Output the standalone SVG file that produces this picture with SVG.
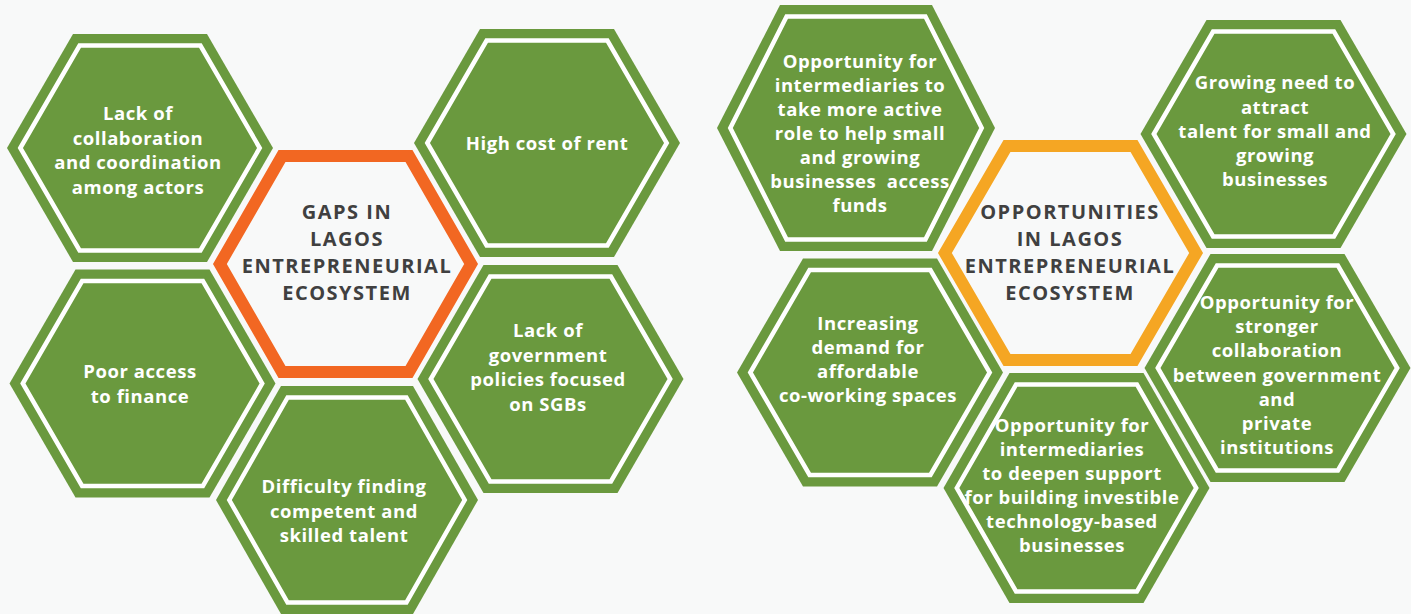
<svg xmlns="http://www.w3.org/2000/svg" width="1411" height="614" viewBox="0 0 1411 614">
<style>
.bg{fill:#f8f9f9}
.hex{fill:#6a993e}
.in{fill:none;stroke:#ffffff;stroke-width:4.5;stroke-linejoin:miter}
.core{fill:#f8f9f9;stroke-width:12;stroke-linejoin:miter}
.t{font-family:"Open Sans","Liberation Sans",sans-serif;font-weight:700;font-size:18.5px;letter-spacing:0.55px;fill:#ffffff;text-anchor:middle}
.c{font-family:"Open Sans","Liberation Sans",sans-serif;font-weight:700;font-size:20px;letter-spacing:1.5px;fill:#404040;text-anchor:middle}
</style>
<rect class="bg" x="0" y="0" width="1411" height="614"/>
<g id="connectors"/>

<g id="gap-collaboration">
<polygon class="hex" points="7,148 73,34 207,34 273,148 207,262 73,262"/>
<polygon class="in" points="20.3,148 79.6,45.5 200.4,45.5 259.7,148 200.4,250.5 79.6,250.5"/>
<text class="t" x="138" y="120">Lack of</text>
<text class="t" x="138" y="144.5">collaboration</text>
<text class="t" x="138" y="169">and coordination</text>
<text class="t" x="138" y="193.5">among actors</text>
</g>

<g id="gaps-center">
<polygon class="core" stroke="#f26722" points="219.9,264 282,156 409,156 471.1,264 409,372 282,372"/>
<text class="c" x="347" y="219">GAPS IN</text>
<text class="c" x="347" y="246">LAGOS</text>
<text class="c" x="347" y="273">ENTREPRENEURIAL</text>
<text class="c" x="347" y="300">ECOSYSTEM</text>
</g>

<g id="gap-rent">
<polygon class="hex" points="414,143 480,29 614,29 680,143 614,257 480,257"/>
<polygon class="in" points="427.3,143 486.6,40.5 607.4,40.5 666.7,143 607.4,245.5 486.6,245.5"/>
<text class="t" x="547" y="150">High cost of rent</text>
</g>

<g id="gap-finance">
<polygon class="hex" points="9.5,383.5 75.5,269.5 209.5,269.5 275.5,383.5 209.5,497.5 75.5,497.5"/>
<polygon class="in" points="22.8,383.5 82.1,281 202.9,281 262.2,383.5 202.9,486 82.1,486"/>
<text class="t" x="140" y="378">Poor access</text>
<text class="t" x="140" y="402.5">to finance</text>
</g>

<g id="gap-policies">
<polygon class="hex" points="417.5,379 483.5,265 617.5,265 683.5,379 617.5,493 483.5,493"/>
<polygon class="in" points="430.8,379 490.1,276.5 610.9,276.5 670.2,379 610.9,481.5 490.1,481.5"/>
<text class="t" x="548" y="337">Lack of</text>
<text class="t" x="548" y="361.5">government</text>
<text class="t" x="548" y="386">policies focused</text>
<text class="t" x="548" y="410.5">on SGBs</text>
</g>

<g id="gap-talent">
<polygon class="hex" points="216,500 281,386 413,386 478,500 413,614 281,614"/>
<polygon class="in" points="229.3,500 287.6,397.5 406.4,397.5 464.7,500 406.4,602.5 287.6,602.5"/>
<text class="t" x="344" y="493">Difficulty finding</text>
<text class="t" x="344" y="517.5">competent and</text>
<text class="t" x="344" y="542">skilled talent</text>
</g>

<g id="opp-funds">
<polygon class="hex" points="717,128 780,5 932,5 995,128 932,251 780,251"/>
<polygon class="in" points="730.3,128 786.6,16.5 925.4,16.5 981.7,128 925.4,239.5 786.6,239.5"/>
<text class="t" x="860" y="67.5">Opportunity for</text>
<text class="t" x="860" y="91.5">intermediaries to</text>
<text class="t" x="860" y="115.5">take more active</text>
<text class="t" x="860" y="139.5">role to help small</text>
<text class="t" x="860" y="163.5">and growing</text>
<text class="t" x="860" y="187.5" xml:space="preserve">businesses  access</text>
<text class="t" x="860" y="211.5">funds</text>
</g>

<g id="opportunities-center">
<polygon class="core" stroke="#f5a623" points="944.9,253 1007,146 1134,146 1196.1,253 1134,360 1007,360"/>
<text class="c" x="1070" y="219">OPPORTUNITIES</text>
<text class="c" x="1070" y="246">IN LAGOS</text>
<text class="c" x="1070" y="273">ENTREPRENEURIAL</text>
<text class="c" x="1070" y="300">ECOSYSTEM</text>
</g>

<g id="opp-talent">
<polygon class="hex" points="1140.5,134 1206.5,20 1340.5,20 1406.5,134 1340.5,248 1206.5,248"/>
<polygon class="in" points="1153.8,134 1213.1,31.5 1333.9,31.5 1393.2,134 1333.9,236.5 1213.1,236.5"/>
<text class="t" x="1275" y="89">Growing need to</text>
<text class="t" x="1275" y="113.5">attract</text>
<text class="t" x="1275" y="138">talent for small and</text>
<text class="t" x="1275" y="162">growing</text>
<text class="t" x="1275" y="186">businesses</text>
</g>

<g id="opp-coworking">
<polygon class="hex" points="737,372.5 803,258.5 937,258.5 1003,372.5 937,486.5 803,486.5"/>
<polygon class="in" points="750.3,372.5 809.6,270 930.4,270 989.7,372.5 930.4,475 809.6,475"/>
<text class="t" x="868" y="330">Increasing</text>
<text class="t" x="868" y="354">demand for</text>
<text class="t" x="868" y="378">affordable</text>
<text class="t" x="868" y="402">co-working spaces</text>
</g>

<g id="opp-collaboration">
<polygon class="hex" points="1144.5,368 1210.5,254 1344.5,254 1410.5,368 1344.5,482 1210.5,482"/>
<polygon class="in" points="1157.8,368 1217.1,265.5 1337.9,265.5 1397.2,368 1337.9,470.5 1217.1,470.5"/>
<text class="t" x="1277" y="309">Opportunity for</text>
<text class="t" x="1277" y="333">stronger</text>
<text class="t" x="1277" y="357">collaboration</text>
<text class="t" x="1277" y="381.5">between government</text>
<text class="t" x="1277" y="405.5">and</text>
<text class="t" x="1277" y="429.5">private</text>
<text class="t" x="1277" y="453.5">institutions</text>
</g>

<g id="opp-investible">
<polygon class="hex" points="943.5,488 1009.5,373 1143.5,373 1209.5,488 1143.5,603 1009.5,603"/>
<polygon class="in" points="956.8,488 1016.1,384.5 1136.9,384.5 1196.2,488 1136.9,591.5 1016.1,591.5"/>
<text class="t" x="1072" y="431.5">Opportunity for</text>
<text class="t" x="1072" y="455.5">intermediaries</text>
<text class="t" x="1072" y="479.5">to deepen support</text>
<text class="t" x="1072" y="503.5">for building investible</text>
<text class="t" x="1072" y="527.5">technology-based</text>
<text class="t" x="1072" y="551.5">businesses</text>
</g>
</svg>
